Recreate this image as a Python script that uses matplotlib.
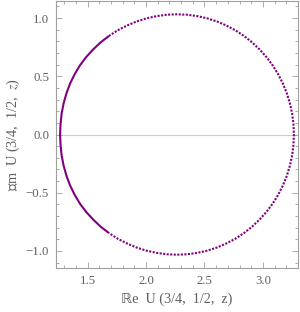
import matplotlib
matplotlib.use("Agg")
import matplotlib.pyplot as plt
from matplotlib.ticker import MultipleLocator

plt.rcParams["mathtext.fontset"] = "stix"

# Upper half of the curve, from right end (Re max) round to left end
re_upper = [3.265, 3.261, 3.250, 3.231, 3.205, 3.171, 3.131, 3.084, 3.031, 2.972,
            2.908, 2.839, 2.765, 2.688, 2.607, 2.524, 2.439, 2.352, 2.265,
            2.178, 2.091, 2.004, 1.919, 1.837, 1.757, 1.682, 1.611, 1.547, 1.487,
            1.434, 1.389, 1.350, 1.319, 1.295, 1.278, 1.269, 1.265]
im_upper = [0.000, 0.090, 0.179, 0.267, 0.353, 0.437, 0.517, 0.593, 0.664, 0.730,
            0.791, 0.846, 0.895, 0.936, 0.971, 0.998, 1.017, 1.029, 1.033,
            1.029, 1.017, 0.998, 0.971, 0.936, 0.895, 0.846, 0.791, 0.730, 0.664,
            0.593, 0.517, 0.437, 0.353, 0.267, 0.179, 0.090, 0.000]
split_index = 25  # where the solid part begins (upper) / ends (lower)

x_ticks = [1.5, 2.0, 2.5, 3.0]
y_ticks = [-1.0, -0.5, 0.0, 0.5, 1.0]
x_label = "\u211de  U (3/4,  1/2,  z)"
y_label = "\U0001D540m  U (3/4,  1/2,  $z$)"

# curve pieces (lower half is the mirror image of the upper half)
re_solid = re_upper[split_index:] + re_upper[-2:split_index - 1:-1]
im_solid = im_upper[split_index:] + [-v for v in im_upper[-2:split_index - 1:-1]]
re_dot = re_upper[split_index::-1] + re_upper[1:split_index + 1]
im_dot = im_upper[split_index::-1] + [-v for v in im_upper[1:split_index + 1]]

purple = "#800080"
gray_frame = "#a0a0a0"
gray_text = "#606060"
serif = ["Liberation Serif", "DejaVu Sans"]

fig = plt.figure(figsize=(3.0, 3.12), dpi=100)
ax = fig.add_axes([56/300, 44/312, 242/300, 267/312])

ax.axhline(0, color="#cccccc", lw=0.8, zorder=1)
ax.plot(re_solid, im_solid, color=purple, lw=1.5, solid_capstyle="butt",
        solid_joinstyle="round", zorder=3)
ax.plot(re_dot, im_dot, color=purple, lw=1.5, linestyle=(0, (1.0, 0.7)),
        dash_capstyle="butt", zorder=3)

ax.set_xlim(1.23, 3.30)
ax.set_ylim(-1.147, 1.147)
ax.xaxis.set_minor_locator(MultipleLocator(0.1))
ax.yaxis.set_minor_locator(MultipleLocator(0.1))
ax.set_xticks(x_ticks)
ax.set_yticks(y_ticks)
ax.set_xticklabels([f"{v:.1f}" for v in x_ticks])
ax.set_yticklabels([f"{v:.1f}".replace("-", "\u2212") for v in y_ticks])

for s in ax.spines.values():
    s.set_color(gray_frame)
    s.set_linewidth(0.8)
ax.tick_params(which="both", direction="in", top=True, right=True, color=gray_frame, width=0.6)
ax.tick_params(which="major", length=4)
ax.tick_params(which="minor", length=2)
ax.tick_params(which="both", labelcolor=gray_text, labelsize=9.2, pad=5)
for lab in ax.get_xticklabels() + ax.get_yticklabels():
    lab.set_family(serif)

ax.set_xlabel(x_label, color=gray_text, fontsize=10.2, family=serif, labelpad=4)
ax.set_ylabel(y_label, color=gray_text, fontsize=10.2, family=serif, labelpad=3)

fig.savefig("out.png", dpi=100)
